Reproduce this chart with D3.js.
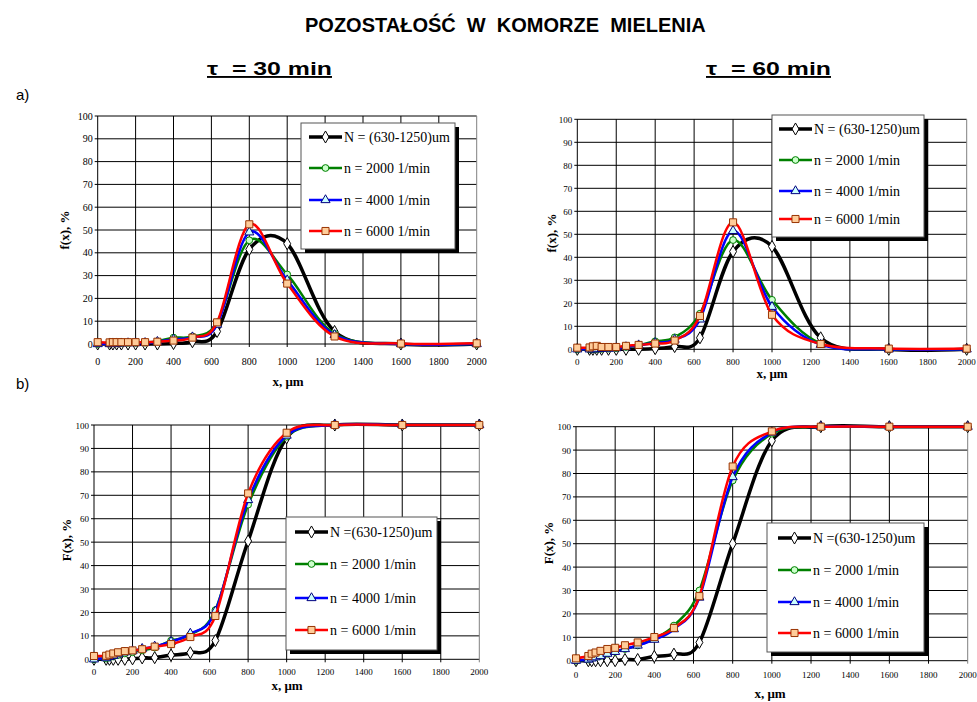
<!DOCTYPE html>
<html>
<head>
<meta charset="utf-8">
<script src="https://d3js.org/d3.v7.min.js"></script>
<style>
  body { margin:0; background:white; }
  text { white-space: pre; }
</style>
</head>
<body>
<svg id="chart" width="977" height="702"></svg>
<script>
// sieve sizes, um
var xSizes = [0, 63, 80, 100, 125, 160, 200, 250, 315, 400, 500, 630, 800, 1000, 1250, 1600, 2000];

// f(x), tau = 30 min
var f30_N    = [0, 0, 0, 0, 0, 0, 0, 0, 0, 0.2, 1, 5.5, 41.5, 44, 5.5, 0, 0];
var f30_2000 = [0, 0.2, 0.3, 0.3, 0.4, 0.5, 0.5, 0.6, 1.2, 2.8, 3.3, 9.5, 45.5, 30.5, 4.5, 0, 0];
var f30_4000 = [0, 0, 0.1, 0.2, 0.3, 0.4, 0.4, 0.5, 1, 2, 3, 8.5, 49, 28, 4, 0, 0];
var f30_6000 = [0.8, 0.7, 0.8, 0.8, 0.8, 0.8, 0.8, 0.8, 1, 1.5, 2.8, 9.5, 52.5, 26.5, 3.3, 0.2, 0.3];

// f(x), tau = 60 min
var f60_N    = [0, 0, 0, 0, 0, 0, 0, 0, 0, 0.3, 1.2, 5, 42.5, 44.7, 5, 0, 0];
var f60_2000 = [0, 0, 0, 0.1, 0.2, 0.3, 0.5, 1, 1.8, 3.5, 5.2, 15.5, 47.5, 21.5, 2.5, 0, 0];
var f60_4000 = [0, 0, 0, 0.1, 0.2, 0.3, 0.5, 1, 1.8, 2.8, 4.2, 13, 51.5, 18.5, 2, 0, 0];
var f60_6000 = [0.7, 0.8, 1.3, 1.5, 1, 1, 1, 1.5, 1.9, 2.5, 3.8, 14.5, 55.2, 15, 2.3, 0.3, 0.3];

// F(x), tau = 30 min
var F30_N    = [0, 0, 0, 0, 0, 0, 0.2, 0.6, 0.7, 1.8, 2.8, 8, 50.5, 94.5, 100, 100, 100];
var F30_2000 = [0, 0.3, 0.8, 1.2, 1.8, 2.5, 3, 3.8, 5, 8, 10.5, 21, 66, 95, 100, 100, 100];
var F30_4000 = [0, 0.5, 1, 1.5, 2.2, 3, 3.5, 4.5, 5.5, 7.5, 11, 20.5, 68, 95.5, 100, 100, 100];
var F30_6000 = [1.4, 1.5, 2, 2.5, 3, 3.5, 3.8, 4.3, 5.4, 6.5, 9.5, 18.5, 70.8, 96.7, 100, 100, 100];

// F(x), tau = 60 min
var F60_N    = [0, 0, 0, 0, 0, 0, 0, 0.5, 0.5, 1.8, 2.8, 7.8, 50, 94, 100, 100, 100];
var F60_2000 = [0, 0.5, 1, 1.5, 2, 3, 3.8, 5, 6.5, 9.5, 15, 30, 77, 97, 100, 100, 100];
var F60_4000 = [0, 0.5, 1, 1.5, 2, 3, 3.8, 5, 6.5, 9, 13.5, 27, 78.5, 97.5, 100, 100, 100];
var F60_6000 = [1, 2, 3, 3.5, 4.2, 5, 5.5, 6.6, 7.8, 10.1, 14, 27.6, 83, 98, 100, 100, 100];

var legendTop    = ["N = (630-1250)um", "n = 2000 1/min", "n = 4000 1/min", "n = 6000 1/min"];
var legendBottom = ["N =(630-1250)um", "n = 2000 1/min", "n = 4000 1/min", "n = 6000 1/min"];
var xTicks = d3.range(0, 2001, 200);
var yTicks = d3.range(0, 101, 10);

// line / marker styles for the 4 series
var styles = [
  {line:"#000000", w:3.5, sym:d3.symbolDiamond,  size:42, fill:"#ffffff", stroke:"#000000"},
  {line:"#008000", w:2.5, sym:d3.symbolCircle,   size:36, fill:"#ccffcc", stroke:"#008000"},
  {line:"#0000ff", w:2.5, sym:d3.symbolTriangle, size:36, fill:"#ccffff", stroke:"#000080"},
  {line:"#ff0000", w:2.5, sym:d3.symbolSquare,   size:50, fill:"#ffcc99", stroke:"#993300"}
];

var svg = d3.select("#chart");
var serif = "'Liberation Serif','Times New Roman',serif";
var sans = "'Liberation Sans',Arial,sans-serif";

svg.append("text").attr("x", 305).attr("y", 32)
  .style("font-family", sans).style("font-weight", "bold").style("font-size", "20px")
  .text("POZOSTAŁOŚĆ  W  KOMORZE  MIELENIA");

function tauLabel(x, txt) {
  svg.append("text").attr("x", x).attr("y", 75)
    .style("font-family", sans).style("font-weight", "bold").style("font-size", "19px")
    .style("text-decoration", "underline")
    .attr("textLength", 125).attr("lengthAdjust", "spacingAndGlyphs")
    .text(txt);
}
tauLabel(207, "τ  = 30 min");
tauLabel(706, "τ  = 60 min");

svg.append("text").attr("x", 16).attr("y", 100).style("font-family", sans).style("font-size", "15px").text("a)");
svg.append("text").attr("x", 16).attr("y", 389).style("font-family", sans).style("font-size", "15px").text("b)");

function panel(p) {
  var x = d3.scaleLinear().domain([0, 2000]).range([p.x0, p.x1]);
  var y = d3.scaleLinear().domain([0, 100]).range([p.y0, p.y1]);
  var g = svg.append("g");

  g.append("rect").attr("x", p.x0).attr("y", p.y1).attr("width", p.x1 - p.x0).attr("height", p.y0 - p.y1)
    .attr("fill", "white");

  // grid
  g.selectAll(".hg").data(yTicks).enter().append("line")
    .attr("x1", p.x0 - 3).attr("x2", p.x1)
    .attr("y1", function(d) { return y(d); }).attr("y2", function(d) { return y(d); })
    .attr("stroke", "#000").attr("stroke-width", 1);
  g.selectAll(".vg").data(xTicks).enter().append("line")
    .attr("y1", p.y1).attr("y2", p.y0 + 3)
    .attr("x1", function(d) { return x(d); }).attr("x2", function(d) { return x(d); })
    .attr("stroke", function(d) { return d == 2000 ? "#808080" : "#000"; }).attr("stroke-width", 1);

  // tick labels
  g.selectAll(".yl").data(yTicks).enter().append("text")
    .attr("x", p.x0 - 5).attr("y", function(d) { return y(d) + 3.5; })
    .attr("text-anchor", "end").style("font-family", serif).style("font-size", p.fs + "px")
    .text(function(d) { return d; });
  g.selectAll(".xl").data(xTicks).enter().append("text")
    .attr("x", function(d) { return x(d); }).attr("y", p.y0 + p.xlOff)
    .attr("text-anchor", "middle").style("font-family", serif).style("font-size", p.fs + "px")
    .text(function(d) { return d; });

  // axis titles
  g.append("text").attr("x", p.xtX).attr("y", p.xtY).attr("text-anchor", "middle")
    .style("font-family", serif).style("font-weight", "bold").style("font-size", "13px")
    .text("x, μm");
  g.append("text").attr("transform", "translate(" + p.ytX + "," + p.ytY + ") rotate(-90)")
    .attr("text-anchor", "middle")
    .style("font-family", serif).style("font-weight", "bold").style("font-size", "13px")
    .text(p.ytitle);

  var line = d3.line()
    .x(function(d, i) { return x(xSizes[i]); })
    .y(function(d) { return y(d); })
    .curve(d3.curveCardinal.tension(0));

  p.series.forEach(function(s, k) {
    var st = styles[k];
    g.append("path").datum(s).attr("d", line)
      .attr("fill", "none").attr("stroke", st.line).attr("stroke-width", st.w)
      .attr("stroke-linejoin", "round");
    g.selectAll(".m" + k).data(s).enter().append("path")
      .attr("d", d3.symbol().type(st.sym).size(st.size))
      .attr("transform", function(d, i) { return "translate(" + x(xSizes[i]) + "," + y(d) + ")"; })
      .attr("fill", st.fill).attr("stroke", st.stroke).attr("stroke-width", 1);
  });

  // legend
  var L = p.leg;
  g.append("rect").attr("x", L.x + 4).attr("y", L.y + 4).attr("width", L.w).attr("height", L.h).attr("fill", "#000");
  g.append("rect").attr("x", L.x).attr("y", L.y).attr("width", L.w).attr("height", L.h)
    .attr("fill", "white").attr("stroke", "#555").attr("stroke-width", 1);
  p.labels.forEach(function(lab, k) {
    var st = styles[k];
    var ry = L.rows[k];
    g.append("line").attr("x1", L.lx).attr("x2", L.lx + 33).attr("y1", ry).attr("y2", ry)
      .attr("stroke", st.line).attr("stroke-width", st.w);
    g.append("path").attr("d", d3.symbol().type(st.sym).size(st.size))
      .attr("transform", "translate(" + (L.lx + 16.5) + "," + ry + ")")
      .attr("fill", st.fill).attr("stroke", st.stroke).attr("stroke-width", 1);
    g.append("text").attr("x", L.lx + 35).attr("y", ry + 5)
      .style("font-family", serif).style("font-size", "14px").text(lab);
  });
}

panel({x0:97.7, x1:476.7, y0:344, y1:116, fs:10, xlOff:21, xtX:288, xtY:386, ytX:69, ytY:230, ytitle:"f(x), %",
  series:[f30_N, f30_2000, f30_4000, f30_6000], labels:legendTop,
  leg:{x:301, y:123, w:154, h:126, lx:309, rows:[137, 168, 200, 231]}});
panel({x0:577.3, x1:966.7, y0:349.3, y1:119.3, fs:9, xlOff:16, xtX:772, xtY:378, ytX:556, ytY:233, ytitle:"f(x), %",
  series:[f60_N, f60_2000, f60_4000, f60_6000], labels:legendTop,
  leg:{x:772, y:115, w:152, h:122, lx:779, rows:[129, 160, 191, 219]}});
panel({x0:94, x1:479.3, y0:659.3, y1:425, fs:9, xlOff:16, xtX:287, xtY:690, ytX:71, ytY:540, ytitle:"F(x), %",
  series:[F30_N, F30_2000, F30_4000, F30_6000], labels:legendBottom,
  leg:{x:286, y:517, w:151, h:133, lx:295, rows:[532, 564, 598, 630]}});
panel({x0:576, x1:967.7, y0:660.7, y1:426.7, fs:9, xlOff:17, xtX:770, xtY:698, ytX:553, ytY:543, ytitle:"F(x), %",
  series:[F60_N, F60_2000, F60_4000, F60_6000], labels:legendBottom,
  leg:{x:767, y:523, w:157, h:129, lx:778, rows:[538, 570, 602, 633]}});
</script>
</body>
</html>
